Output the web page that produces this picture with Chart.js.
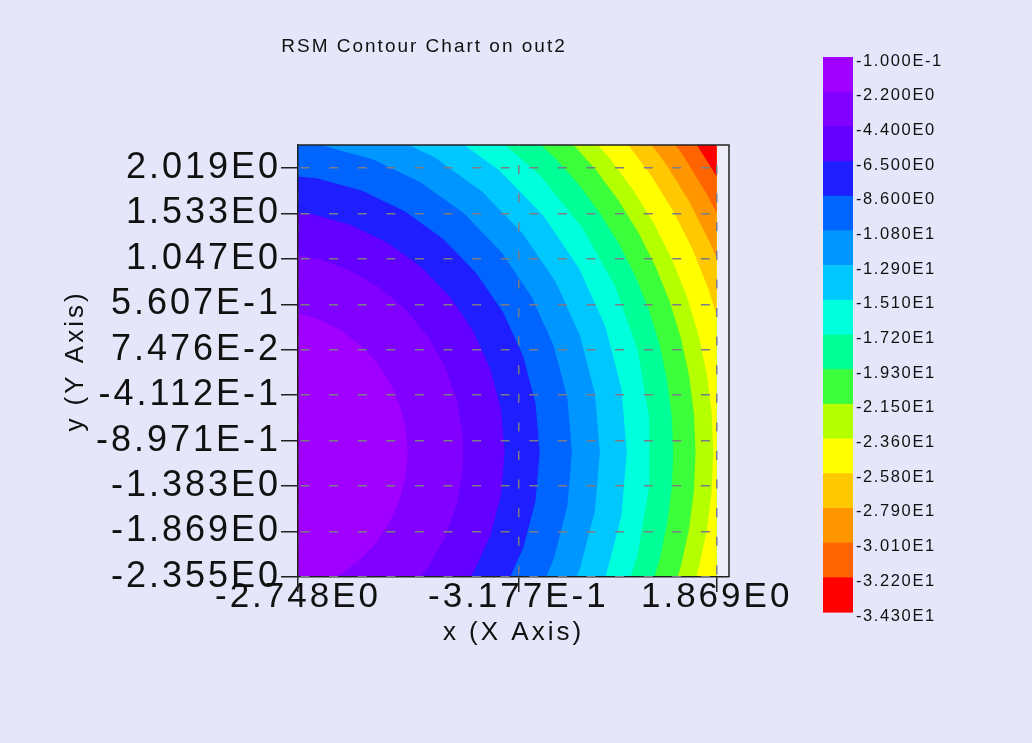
<!DOCTYPE html>
<html>
<head>
<meta charset="utf-8">
<title>RSM Contour Chart on out2</title>
<script src="https://cdn.jsdelivr.net/npm/chart.js@4.4.1/dist/chart.umd.min.js"></script>
<style>
  html, body { margin: 0; padding: 0; background: #e6e6fa; }
  canvas { display: block; }
</style>
</head>
<body>
<canvas id="chart" width="1032" height="743"></canvas>
<script>
// Contour levels on the colour bar, top to bottom
const levelLabels = ['-1.000E-1', '-2.200E0', '-4.400E0', '-6.500E0', '-8.600E0', '-1.080E1',
  '-1.290E1', '-1.510E1', '-1.720E1', '-1.930E1', '-2.150E1', '-2.360E1', '-2.580E1',
  '-2.790E1', '-3.010E1', '-3.220E1', '-3.430E1'];

// One colour per band between two neighbouring levels
const bandColors = ['#a000ff', '#8200ff', '#6400ff', '#1e1eff', '#0064ff', '#0096ff', '#00c8ff',
  '#00ffdc', '#00ff96', '#3cff3c', '#b4ff00', '#ffff00', '#ffc800', '#ff9600', '#ff6400', '#ff0000'];

const xTickValues = [-2.748, -0.3177, 1.869];
const xTickLabels = ['-2.748E0', '-3.177E-1', '1.869E0'];
const yTickValues = [2.019, 1.533, 1.047, 0.5607, 0.07476, -0.4112, -0.8971, -1.383, -1.869, -2.355];
const yTickLabels = ['2.019E0', '1.533E0', '1.047E0', '5.607E-1', '7.476E-2', '-4.112E-1',
  '-8.971E-1', '-1.383E0', '-1.869E0', '-2.355E0'];

// Sampled region of the response surface
const xDomain = [-2.748, 1.869];
const yDomain = [-2.355, 2.262];

// Contour lines (x, y), each traced from its upper end to its lower end
const contourM2_2 = [[-2.794, 0.476], [-2.538, 0.407], [-2.299, 0.296], [-2.082, 0.144], [-1.894, -0.044],
  [-1.743, -0.261], [-1.631, -0.501], [-1.562, -0.756], [-1.539, -1.020], [-1.562, -1.284],
  [-1.631, -1.540], [-1.743, -1.780], [-1.894, -1.996], [-2.082, -2.184], [-2.299, -2.336], [-2.538, -2.447]];
const contourM4_4 = [[-2.872, 1.107], [-2.505, 1.042], [-2.156, 0.915], [-1.833, 0.729], [-1.548, 0.490],
  [-1.309, 0.205], [-1.123, -0.118], [-0.996, -0.467], [-0.931, -0.834], [-0.931, -1.206],
  [-0.996, -1.573], [-1.123, -1.922], [-1.309, -2.245], [-1.548, -2.530]];
const contourM6_5 = [[-3.058, 1.569], [-2.608, 1.530], [-2.173, 1.413], [-1.764, 1.222], [-1.394, 0.963],
  [-1.075, 0.644], [-0.816, 0.275], [-0.625, -0.135], [-0.508, -0.570], [-0.469, -1.020],
  [-0.508, -1.470], [-0.625, -1.906], [-0.816, -2.315], [-1.075, -2.684]];
const contourM8_6 = [[-3.058, 1.955], [-2.541, 1.910], [-2.041, 1.776], [-1.571, 1.556], [-1.146, 1.259],
  [-0.779, 0.892], [-0.482, 0.468], [-0.262, -0.003], [-0.128, -0.503], [-0.083, -1.020],
  [-0.128, -1.537], [-0.262, -2.038], [-0.482, -2.508]];
const contourM10_8 = [[-3.058, 2.311], [-2.480, 2.260], [-1.919, 2.110], [-1.393, 1.865], [-0.917, 1.532],
  [-0.506, 1.121], [-0.173, 0.646], [0.072, 0.119], [0.222, -0.442], [0.273, -1.020],
  [0.222, -1.598], [0.072, -2.159], [-0.039, -2.428]];
const contourM12_9 = [[-1.813, 2.400], [-1.239, 2.132], [-0.719, 1.768], [-0.270, 1.319], [0.094, 0.800],
  [0.362, 0.225], [0.526, -0.388], [0.581, -1.020], [0.526, -1.652], [0.362, -2.265], [0.240, -2.558]];
const contourM15_1 = [[-1.090, 2.389], [-0.528, 1.995], [-0.043, 1.510], [0.351, 0.948], [0.641, 0.326],
  [0.818, -0.337], [0.878, -1.020], [0.818, -1.704], [0.641, -2.366], [0.509, -2.683]];
const contourM17_2 = [[-0.649, 2.420], [-0.088, 1.950], [0.382, 1.389], [0.749, 0.755], [0.999, 0.067],
  [1.126, -0.654], [1.126, -1.386], [0.999, -2.107], [0.889, -2.457]];
const contourM19_3 = [[-0.199, 2.387], [0.087, 2.125], [0.349, 1.839], [0.586, 1.531], [0.794, 1.204],
  [0.973, 0.860], [1.122, 0.501], [1.239, 0.131], [1.322, -0.248], [1.373, -0.632], [1.390, -1.020],
  [1.373, -1.408], [1.322, -1.792], [1.239, -2.171], [1.122, -2.541]];
const contourM21_5 = [[0.261, 2.299], [0.538, 1.997], [0.787, 1.672], [1.007, 1.327], [1.196, 0.964],
  [1.353, 0.586], [1.476, 0.195], [1.565, -0.205], [1.618, -0.611], [1.636, -1.020], [1.618, -1.429],
  [1.565, -1.835], [1.476, -2.235], [1.353, -2.626]];
const contourM23_6 = [[0.400, 2.438], [0.688, 2.123], [0.948, 1.785], [1.177, 1.425], [1.374, 1.047],
  [1.537, 0.653], [1.665, 0.246], [1.758, -0.171], [1.813, -0.594], [1.832, -1.020], [1.813, -1.446],
  [1.758, -1.869], [1.665, -2.286], [1.537, -2.692]];
const contourM25_8 = [[0.577, 2.615], [0.880, 2.285], [1.153, 1.929], [1.394, 1.551], [1.601, 1.153],
  [1.773, 0.738], [1.869, 0.447]];
const contourM27_9 = [[0.722, 2.760], [1.037, 2.416], [1.320, 2.046], [1.571, 1.653], [1.786, 1.239],
  [1.869, 1.053]];
const contourM30_1 = [[1.195, 2.549], [1.490, 2.165], [1.750, 1.756], [1.869, 1.539]];
const contourM32_2 = [[1.341, 2.671], [1.646, 2.273], [1.869, 1.928]];

const contours = [contourM2_2, contourM4_4, contourM6_5, contourM8_6, contourM10_8, contourM12_9,
  contourM15_1, contourM17_2, contourM19_3, contourM21_5, contourM23_6, contourM25_8, contourM27_9,
  contourM30_1, contourM32_2];

const FONT = '"Liberation Sans", Arial, Helvetica, sans-serif';

// Closing corners lie outside the plot (clipped), except along the right data edge
const farLeft = -3.4, farTop = 3.0, farBottom = -3.0;

// Region below a contour level: the contour plus the corners on its outer side
function outerRegion(line) {
  const pts = line.map(([x, y]) => ({ x, y }));
  const last = line[line.length - 1];
  if (last[1] < yDomain[0]) {
    pts.push({ x: xDomain[1], y: farBottom }, { x: xDomain[1], y: farTop },
             { x: farLeft, y: farTop }, { x: farLeft, y: line[0][1] });
  } else {
    pts.push({ x: xDomain[1], y: farTop });
  }
  return pts;
}

const fullRegion = [{ x: farLeft, y: farBottom }, { x: xDomain[1], y: farBottom },
                    { x: xDomain[1], y: farTop }, { x: farLeft, y: farTop }];

const regions = [fullRegion, ...contours.map(outerRegion)];
const datasets = regions.map((pts, i) => ({
  label: levelLabels[i],
  data: pts,
  backgroundColor: bandColors[i],
  borderWidth: 0,
  pointRadius: 0,
  tension: 0,
  fill: 'shape',
  order: regions.length - i
}));

// Plot background, frame, title and colour bar
const plotBackground = {
  id: 'plotBackground',
  beforeDatasetsDraw(chart) {
    const { ctx, chartArea: a } = chart;
    ctx.save();
    ctx.fillStyle = '#eeeefb';
    ctx.fillRect(a.left, a.top, a.right - a.left, a.bottom - a.top);
    ctx.restore();
  },
  afterDatasetsDraw(chart) {
    const { ctx, chartArea: a } = chart;
    ctx.save();
    ctx.strokeStyle = '#222';
    ctx.lineWidth = 1.5;
    ctx.beginPath();
    ctx.moveTo(a.left, a.top);
    ctx.lineTo(a.right, a.top);
    ctx.lineTo(a.right, a.bottom);
    ctx.stroke();
    ctx.restore();
  }
};

const textSpacing = {
  id: 'textSpacing',
  beforeDraw(chart) { chart.ctx.letterSpacing = '3px'; },
  afterDraw(chart) { chart.ctx.letterSpacing = '0px'; }
};

const chartTitle = {
  id: 'chartTitle',
  afterDraw(chart) {
    const ctx = chart.ctx;
    ctx.save();
    ctx.letterSpacing = '2px';
    ctx.font = '19px ' + FONT;
    ctx.fillStyle = '#111';
    ctx.textAlign = 'center';
    ctx.textBaseline = 'middle';
    ctx.fillText('RSM Contour Chart on out2', 424, 47);
    ctx.restore();
  }
};

const colorBar = {
  id: 'colorBar',
  afterDraw(chart) {
    const ctx = chart.ctx;
    const left = 823, width = 30, top = 57, bottom = 612;
    const h = (bottom - top) / bandColors.length;
    ctx.save();
    bandColors.forEach((c, i) => {
      ctx.fillStyle = c;
      ctx.fillRect(left, top + i * h, width, h + 0.6);
    });
    ctx.letterSpacing = '1.6px';
    ctx.font = '16.5px ' + FONT;
    ctx.fillStyle = '#111';
    ctx.textAlign = 'left';
    ctx.textBaseline = 'middle';
    levelLabels.forEach((t, i) => ctx.fillText(t, left + width + 3, top + i * h + 4));
    ctx.restore();
  }
};

new Chart(document.getElementById('chart'), {
  type: 'line',
  data: { datasets },
  options: {
    responsive: false,
    devicePixelRatio: 1,
    animation: false,
    events: [],
    layout: { padding: { left: 0, right: 303, top: 145, bottom: 0 } },
    plugins: { legend: { display: false }, tooltip: { enabled: false }, title: { display: false } },
    scales: {
      x: {
        type: 'linear',
        min: -2.748,
        max: 2.005,
        afterBuildTicks: s => { s.ticks = xTickValues.map(v => ({ value: v })); },
        afterFit: s => { s.height = 166; },
        ticks: {
          autoSkip: false, maxRotation: 0, minRotation: 0, padding: -16,
          color: '#111', font: { family: FONT, size: 35 },
          callback: (v, i) => xTickLabels[i]
        },
        grid: { z: 1, color: '#7c7c86', lineWidth: 1.5, tickLength: 15, tickColor: '#222', tickWidth: 1.5 },
        border: { z: 1, color: '#222', width: 1.5, dash: [9, 19.6], dashOffset: 8.6 },
        title: { display: true, text: 'x (X Axis)', color: '#111', font: { family: FONT, size: 26 },
                 padding: { top: 0, bottom: 95 } }
      },
      y: {
        type: 'linear',
        min: -2.355,
        max: 2.265,
        afterBuildTicks: s => { s.ticks = yTickValues.map(v => ({ value: v })); },
        afterFit: s => { s.width = 298; },
        ticks: {
          autoSkip: false, padding: 0,
          color: '#111', font: { family: FONT, size: 36 },
          callback: (v, i) => yTickLabels[i]
        },
        grid: { z: 1, color: '#7c7c86', lineWidth: 1.5, tickLength: 17, tickColor: '#222', tickWidth: 1.5 },
        border: { z: 1, color: '#222', width: 1.5, dash: [9, 19.6], dashOffset: 26.6 },
        title: { display: true, text: 'y (Y Axis)', color: '#111', font: { family: FONT, size: 26 },
                 padding: { top: 60, bottom: 0 } }
      }
    }
  },
  plugins: [plotBackground, textSpacing, chartTitle, colorBar]
});
</script>
</body>
</html>
